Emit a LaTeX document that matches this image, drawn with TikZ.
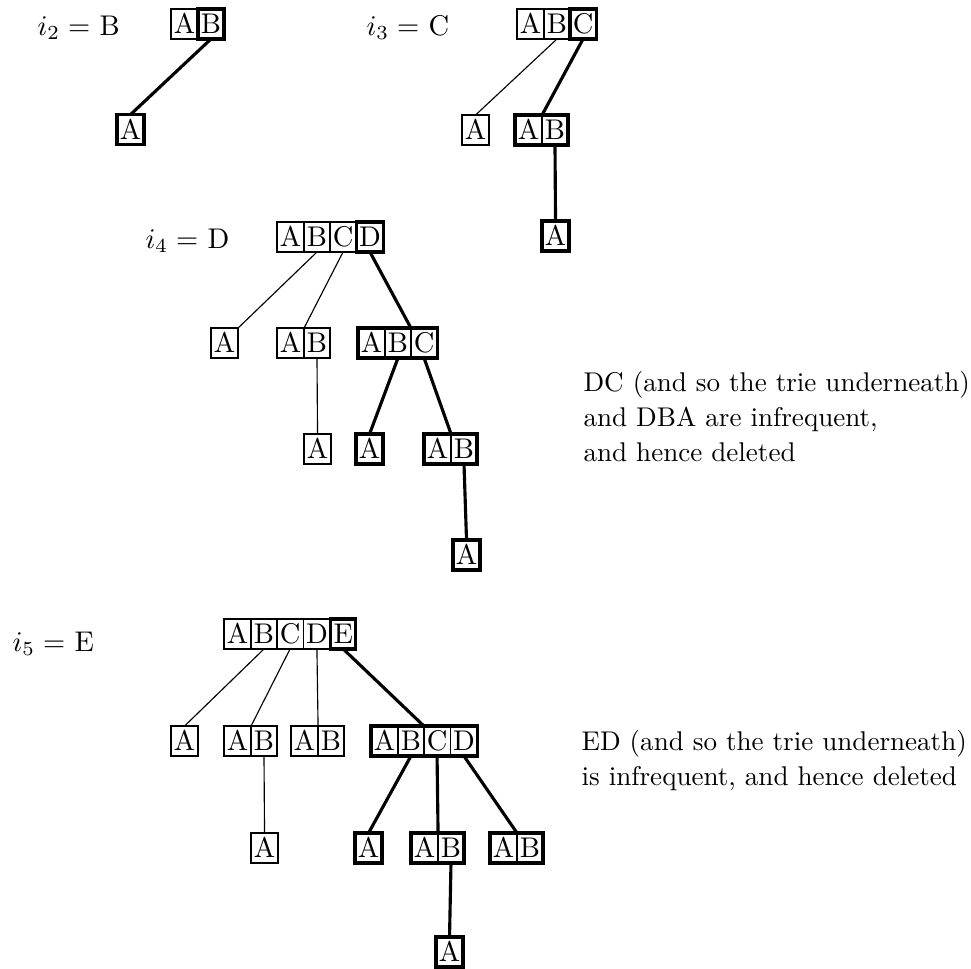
\documentclass[tikz,border=0pt]{standalone}
\usetikzlibrary{positioning}

\tikzset{
  cell/.style={draw, line width=0.4pt, anchor=west, inner xsep=1pt, inner ysep=0pt,
    minimum height=10.5pt, outer sep=0pt, text height=6.83pt, text depth=0pt,
    font=\fontsize{10}{12}\selectfont},
  thk/.style={line width=1.1pt},
  thinedge/.style={line width=0.4pt},
  thickedge/.style={line width=1.1pt},
  stagelabel/.style={anchor=base west, inner sep=0pt, font=\fontsize{10}{12}\selectfont},
  note/.style={anchor=base west, inner sep=0pt, font=\fontsize{9.5}{12}\selectfont},
}

\begin{document}
\begin{tikzpicture}[x=0.351pt, y=-0.351pt]
\useasboundingbox (0,0) rectangle (971,969);

% ---------- i2 = B ----------
\node[stagelabel] (l2) at (37,35) {$i_2 =$ B};
\node[cell] (r2a) at (171,24) {A};
\node[cell,thk] (r2b) at (r2a.east) {B};
\node[cell,thk] (c2a) at (117,129.5) {A};
\draw[thickedge] (r2b.south) -- (c2a.north);

% ---------- i3 = C ----------
\node[stagelabel] (l3) at (366,35) {$i_3 =$ C};
\node[cell] (r3a) at (517,24) {A};
\node[cell] (r3b) at (r3a.east) {B};
\node[cell,thk] (r3c) at (r3b.east) {C};
\node[cell] (c3a) at (462,130) {A};
\node[cell] (c3ba) at (515,130) {A};
\node[cell] (c3bb) at (c3ba.east) {B};
\draw[thk] (c3ba.north west) rectangle (c3bb.south east);
\node[cell,thk] (g3a) at (542,236) {A};
\draw[thinedge] (r3b.south) -- (c3a.north);
\draw[thickedge] (r3c.south) -- (c3ba.north east);
\draw[thickedge] (c3bb.south) -- (g3a.north);

% ---------- i4 = D ----------
\node[stagelabel] (l4) at (145,248) {$i_4 =$ D};
\node[cell] (r4a) at (277,237) {A};
\node[cell] (r4b) at (r4a.east) {B};
\node[cell] (r4c) at (r4b.east) {C};
\node[cell,thk] (r4d) at (r4c.east) {D};
% children
\node[cell] (c4a) at (211,343) {A};
\node[cell] (c4ba) at (277,343) {A};
\node[cell] (c4bb) at (c4ba.east) {B};
\node[cell] (c4da) at (358,343) {A};
\node[cell] (c4db) at (c4da.east) {B};
\node[cell] (c4dc) at (c4db.east) {C};
\draw[thk] (c4da.north west) rectangle (c4dc.south east);
% grandchildren
\node[cell] (g4ba) at (304,449) {A};
\node[cell,thk] (g4da) at (356,449) {A};
\node[cell] (g4dca) at (424,449) {A};
\node[cell] (g4dcb) at (g4dca.east) {B};
\draw[thk] (g4dca.north west) rectangle (g4dcb.south east);
\node[cell,thk] (h4a) at (453,555) {A};
% connectors
\draw[thinedge] (r4b.south) -- (c4a.north east);
\draw[thinedge] (r4c.south) -- (c4ba.north east);
\draw[thickedge] (r4d.south) -- (c4db.north east);
\draw[thinedge] (c4bb.south) -- (g4ba.north);
\draw[thickedge] (c4db.south) -- (g4da.north);
\draw[thickedge] (c4dc.south) -- (g4dca.north east);
\draw[thickedge] (g4dcb.south) -- (h4a.north);

\node[note] (n1a) at (583,391) {DC (and so the trie underneath)};
\node[note] (n1b) at (583,426) {and DBA are infrequent,};
\node[note] (n1c) at (583,461) {and hence deleted};

% ---------- i5 = E ----------
\node[stagelabel] (l5) at (12,651) {$i_5 =$ E};
\node[cell] (r5a) at (224,634) {A};
\node[cell] (r5b) at (r5a.east) {B};
\node[cell] (r5c) at (r5b.east) {C};
\node[cell] (r5d) at (r5c.east) {D};
\node[cell,thk] (r5e) at (r5d.east) {E};
% children
\node[cell] (c5a) at (171,741) {A};
\node[cell] (c5ba) at (224,741) {A};
\node[cell] (c5bb) at (c5ba.east) {B};
\node[cell] (c5ca) at (291,741) {A};
\node[cell] (c5cb) at (c5ca.east) {B};
\node[cell] (c5ea) at (371,741) {A};
\node[cell] (c5eb) at (c5ea.east) {B};
\node[cell] (c5ec) at (c5eb.east) {C};
\node[cell] (c5ed) at (c5ec.east) {D};
\draw[thk] (c5ea.north west) rectangle (c5ed.south east);
% grandchildren
\node[cell] (g5ba) at (251,848) {A};
\node[cell,thk] (g5ea) at (355,848) {A};
\node[cell] (g5eca) at (411,848) {A};
\node[cell] (g5ecb) at (g5eca.east) {B};
\draw[thk] (g5eca.north west) rectangle (g5ecb.south east);
\node[cell] (g5eda) at (490,848) {A};
\node[cell] (g5edb) at (g5eda.east) {B};
\draw[thk] (g5eda.north west) rectangle (g5edb.south east);
\node[cell,thk] (h5a) at (436,952) {A};
% connectors
\draw[thinedge] (r5b.south) -- (c5a.north);
\draw[thinedge] (r5c.south) -- (c5ba.north east);
\draw[thinedge] (r5d.south) -- (c5ca.north east);
\draw[thickedge] (r5e.south) -- (c5eb.north east);
\draw[thinedge] (c5bb.south) -- (g5ba.north);
\draw[thickedge] (c5eb.south) -- (g5ea.north);
\draw[thickedge] (c5ec.south) -- (g5eca.north east);
\draw[thickedge] (c5ed.south) -- (g5eda.north east);
\draw[thickedge] (g5ecb.south) -- (h5a.north);

\node[note] (n2a) at (581,750) {ED (and so the trie underneath)};
\node[note] (n2b) at (581,785) {is infrequent, and hence deleted};
\end{tikzpicture}
\end{document}
